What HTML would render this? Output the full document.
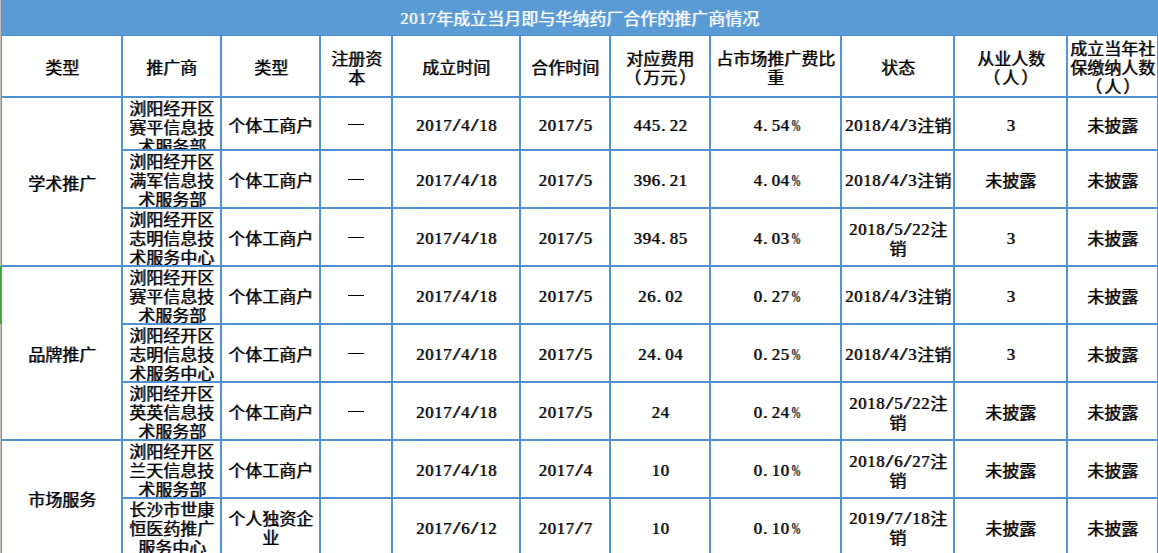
<!DOCTYPE html>
<html lang="zh-CN"><head><meta charset="utf-8"><style>
html,body{margin:0;padding:0;background:#fff;width:1158px;height:553px;overflow:hidden;position:relative}
.r{position:absolute}
.c{position:absolute;overflow:hidden}
.t{position:absolute;left:0;right:0;text-align:center;white-space:nowrap;font-family:"Liberation Sans",sans-serif;font-size:17px;line-height:19px;font-weight:normal;text-shadow:1px 0 0 rgba(0,0,0,.65);text-spacing-trim:space-all}
.d{display:inline-block;width:9px;text-align:center;font-style:normal;font-family:"Liberation Serif",serif;font-size:16.5px;vertical-align:top;position:relative;top:-1px}
.dt{text-align:left;text-indent:1px}
.sl{font-family:"Liberation Mono",monospace;font-size:16px;top:1px}
.pc{display:inline-block;transform:scaleX(0.62);font-weight:normal}
.pl{position:relative;left:-2px;font-weight:normal}
.pr{position:relative;left:2px;font-weight:normal}
</style></head><body>
<div class="r" style="left:1px;top:0;width:1157px;height:35px;background:#5b9bd5"></div>
<div class="c" style="left:1px;top:0;width:1156px;height:35px"><div class="t" style="top:10px;color:#fff;text-shadow:1px 0 0 rgba(255,255,255,.6)"><i class="d">2</i><i class="d">0</i><i class="d">1</i><i class="d">7</i>年成立当月即与华纳药厂合作的推广商情况</div></div>
<div class="c" style="left:2px;top:36px;width:119px;height:60px"><div class="t" style="top:23.0px;color:#000">类型</div></div><div class="c" style="left:123px;top:36px;width:97px;height:60px"><div class="t" style="top:23.0px;color:#000">推广商</div></div><div class="c" style="left:222px;top:36px;width:97px;height:60px"><div class="t" style="top:23.0px;color:#000">类型</div></div><div class="c" style="left:321px;top:36px;width:70px;height:60px"><div class="t" style="top:13.5px;color:#000">注册资<br>本</div></div><div class="c" style="left:393px;top:36px;width:126px;height:60px"><div class="t" style="top:23.0px;color:#000">成立时间</div></div><div class="c" style="left:521px;top:36px;width:88px;height:60px"><div class="t" style="top:23.0px;color:#000">合作时间</div></div><div class="c" style="left:611px;top:36px;width:98px;height:60px"><div class="t" style="top:13.5px;color:#000">对应费用<br><b class="pl">（</b>万元<b class="pr">）</b></div></div><div class="c" style="left:711px;top:36px;width:129px;height:60px"><div class="t" style="top:13.5px;color:#000">占市场推广费比<br>重</div></div><div class="c" style="left:842px;top:36px;width:111px;height:60px"><div class="t" style="top:23.0px;color:#000">状态</div></div><div class="c" style="left:955px;top:36px;width:111px;height:60px"><div class="t" style="top:13.5px;color:#000">从业人数<br><b class="pl">（</b>人<b class="pr">）</b></div></div><div class="c" style="left:1068px;top:36px;width:89px;height:60px"><div class="t" style="top:4.0px;color:#000">成立当年社<br>保缴纳人数<br><b class="pl">（</b>人<b class="pr">）</b></div></div><div class="c" style="left:123px;top:98px;width:97px;height:51px"><div class="t" style="top:2.0px;color:#000">浏阳经开区<br>赛平信息技<br>术服务部</div></div><div class="c" style="left:222px;top:98px;width:97px;height:51px"><div class="t" style="top:18.5px;color:#000">个体工商户</div></div><div class="r" style="left:348px;top:124px;width:16px;height:1px;background:#000"></div><div class="c" style="left:393px;top:98px;width:126px;height:51px"><div class="t" style="top:18.5px;color:#000"><i class="d">2</i><i class="d">0</i><i class="d">1</i><i class="d">7</i><i class="d sl">/</i><i class="d">4</i><i class="d sl">/</i><i class="d">1</i><i class="d">8</i></div></div><div class="c" style="left:521px;top:98px;width:88px;height:51px"><div class="t" style="top:18.5px;color:#000"><i class="d">2</i><i class="d">0</i><i class="d">1</i><i class="d">7</i><i class="d sl">/</i><i class="d">5</i></div></div><div class="c" style="left:611px;top:98px;width:98px;height:51px"><div class="t" style="top:18.5px;color:#000"><i class="d">4</i><i class="d">4</i><i class="d">5</i><i class="d dt">.</i><i class="d">2</i><i class="d">2</i></div></div><div class="c" style="left:711px;top:98px;width:129px;height:51px"><div class="t" style="top:18.5px;color:#000"><i class="d">4</i><i class="d dt">.</i><i class="d">5</i><i class="d">4</i><i class="d"><b class="pc">%</b></i></div></div><div class="c" style="left:842px;top:98px;width:111px;height:51px"><div class="t" style="top:18.5px;color:#000"><i class="d">2</i><i class="d">0</i><i class="d">1</i><i class="d">8</i><i class="d sl">/</i><i class="d">4</i><i class="d sl">/</i><i class="d">3</i>注销</div></div><div class="c" style="left:955px;top:98px;width:111px;height:51px"><div class="t" style="top:18.5px;color:#000"><i class="d">3</i></div></div><div class="c" style="left:1068px;top:98px;width:89px;height:51px"><div class="t" style="top:18.5px;color:#000">未披露</div></div><div class="c" style="left:123px;top:151px;width:97px;height:56px"><div class="t" style="top:2.0px;color:#000">浏阳经开区<br>满军信息技<br>术服务部</div></div><div class="c" style="left:222px;top:151px;width:97px;height:56px"><div class="t" style="top:21.0px;color:#000">个体工商户</div></div><div class="r" style="left:348px;top:179px;width:16px;height:1px;background:#000"></div><div class="c" style="left:393px;top:151px;width:126px;height:56px"><div class="t" style="top:21.0px;color:#000"><i class="d">2</i><i class="d">0</i><i class="d">1</i><i class="d">7</i><i class="d sl">/</i><i class="d">4</i><i class="d sl">/</i><i class="d">1</i><i class="d">8</i></div></div><div class="c" style="left:521px;top:151px;width:88px;height:56px"><div class="t" style="top:21.0px;color:#000"><i class="d">2</i><i class="d">0</i><i class="d">1</i><i class="d">7</i><i class="d sl">/</i><i class="d">5</i></div></div><div class="c" style="left:611px;top:151px;width:98px;height:56px"><div class="t" style="top:21.0px;color:#000"><i class="d">3</i><i class="d">9</i><i class="d">6</i><i class="d dt">.</i><i class="d">2</i><i class="d">1</i></div></div><div class="c" style="left:711px;top:151px;width:129px;height:56px"><div class="t" style="top:21.0px;color:#000"><i class="d">4</i><i class="d dt">.</i><i class="d">0</i><i class="d">4</i><i class="d"><b class="pc">%</b></i></div></div><div class="c" style="left:842px;top:151px;width:111px;height:56px"><div class="t" style="top:21.0px;color:#000"><i class="d">2</i><i class="d">0</i><i class="d">1</i><i class="d">8</i><i class="d sl">/</i><i class="d">4</i><i class="d sl">/</i><i class="d">3</i>注销</div></div><div class="c" style="left:955px;top:151px;width:111px;height:56px"><div class="t" style="top:21.0px;color:#000">未披露</div></div><div class="c" style="left:1068px;top:151px;width:89px;height:56px"><div class="t" style="top:21.0px;color:#000">未披露</div></div><div class="c" style="left:123px;top:209px;width:97px;height:56px"><div class="t" style="top:2.0px;color:#000">浏阳经开区<br>志明信息技<br>术服务中心</div></div><div class="c" style="left:222px;top:209px;width:97px;height:56px"><div class="t" style="top:21.0px;color:#000">个体工商户</div></div><div class="r" style="left:348px;top:237px;width:16px;height:1px;background:#000"></div><div class="c" style="left:393px;top:209px;width:126px;height:56px"><div class="t" style="top:21.0px;color:#000"><i class="d">2</i><i class="d">0</i><i class="d">1</i><i class="d">7</i><i class="d sl">/</i><i class="d">4</i><i class="d sl">/</i><i class="d">1</i><i class="d">8</i></div></div><div class="c" style="left:521px;top:209px;width:88px;height:56px"><div class="t" style="top:21.0px;color:#000"><i class="d">2</i><i class="d">0</i><i class="d">1</i><i class="d">7</i><i class="d sl">/</i><i class="d">5</i></div></div><div class="c" style="left:611px;top:209px;width:98px;height:56px"><div class="t" style="top:21.0px;color:#000"><i class="d">3</i><i class="d">9</i><i class="d">4</i><i class="d dt">.</i><i class="d">8</i><i class="d">5</i></div></div><div class="c" style="left:711px;top:209px;width:129px;height:56px"><div class="t" style="top:21.0px;color:#000"><i class="d">4</i><i class="d dt">.</i><i class="d">0</i><i class="d">3</i><i class="d"><b class="pc">%</b></i></div></div><div class="c" style="left:842px;top:209px;width:111px;height:56px"><div class="t" style="top:11.5px;color:#000"><i class="d">2</i><i class="d">0</i><i class="d">1</i><i class="d">8</i><i class="d sl">/</i><i class="d">5</i><i class="d sl">/</i><i class="d">2</i><i class="d">2</i>注<br>销</div></div><div class="c" style="left:955px;top:209px;width:111px;height:56px"><div class="t" style="top:21.0px;color:#000"><i class="d">3</i></div></div><div class="c" style="left:1068px;top:209px;width:89px;height:56px"><div class="t" style="top:21.0px;color:#000">未披露</div></div><div class="c" style="left:123px;top:267px;width:97px;height:56px"><div class="t" style="top:2.0px;color:#000">浏阳经开区<br>赛平信息技<br>术服务部</div></div><div class="c" style="left:222px;top:267px;width:97px;height:56px"><div class="t" style="top:21.0px;color:#000">个体工商户</div></div><div class="r" style="left:348px;top:295px;width:16px;height:1px;background:#000"></div><div class="c" style="left:393px;top:267px;width:126px;height:56px"><div class="t" style="top:21.0px;color:#000"><i class="d">2</i><i class="d">0</i><i class="d">1</i><i class="d">7</i><i class="d sl">/</i><i class="d">4</i><i class="d sl">/</i><i class="d">1</i><i class="d">8</i></div></div><div class="c" style="left:521px;top:267px;width:88px;height:56px"><div class="t" style="top:21.0px;color:#000"><i class="d">2</i><i class="d">0</i><i class="d">1</i><i class="d">7</i><i class="d sl">/</i><i class="d">5</i></div></div><div class="c" style="left:611px;top:267px;width:98px;height:56px"><div class="t" style="top:21.0px;color:#000"><i class="d">2</i><i class="d">6</i><i class="d dt">.</i><i class="d">0</i><i class="d">2</i></div></div><div class="c" style="left:711px;top:267px;width:129px;height:56px"><div class="t" style="top:21.0px;color:#000"><i class="d">0</i><i class="d dt">.</i><i class="d">2</i><i class="d">7</i><i class="d"><b class="pc">%</b></i></div></div><div class="c" style="left:842px;top:267px;width:111px;height:56px"><div class="t" style="top:21.0px;color:#000"><i class="d">2</i><i class="d">0</i><i class="d">1</i><i class="d">8</i><i class="d sl">/</i><i class="d">4</i><i class="d sl">/</i><i class="d">3</i>注销</div></div><div class="c" style="left:955px;top:267px;width:111px;height:56px"><div class="t" style="top:21.0px;color:#000"><i class="d">3</i></div></div><div class="c" style="left:1068px;top:267px;width:89px;height:56px"><div class="t" style="top:21.0px;color:#000">未披露</div></div><div class="c" style="left:123px;top:325px;width:97px;height:56px"><div class="t" style="top:2.0px;color:#000">浏阳经开区<br>志明信息技<br>术服务中心</div></div><div class="c" style="left:222px;top:325px;width:97px;height:56px"><div class="t" style="top:21.0px;color:#000">个体工商户</div></div><div class="r" style="left:348px;top:353px;width:16px;height:1px;background:#000"></div><div class="c" style="left:393px;top:325px;width:126px;height:56px"><div class="t" style="top:21.0px;color:#000"><i class="d">2</i><i class="d">0</i><i class="d">1</i><i class="d">7</i><i class="d sl">/</i><i class="d">4</i><i class="d sl">/</i><i class="d">1</i><i class="d">8</i></div></div><div class="c" style="left:521px;top:325px;width:88px;height:56px"><div class="t" style="top:21.0px;color:#000"><i class="d">2</i><i class="d">0</i><i class="d">1</i><i class="d">7</i><i class="d sl">/</i><i class="d">5</i></div></div><div class="c" style="left:611px;top:325px;width:98px;height:56px"><div class="t" style="top:21.0px;color:#000"><i class="d">2</i><i class="d">4</i><i class="d dt">.</i><i class="d">0</i><i class="d">4</i></div></div><div class="c" style="left:711px;top:325px;width:129px;height:56px"><div class="t" style="top:21.0px;color:#000"><i class="d">0</i><i class="d dt">.</i><i class="d">2</i><i class="d">5</i><i class="d"><b class="pc">%</b></i></div></div><div class="c" style="left:842px;top:325px;width:111px;height:56px"><div class="t" style="top:21.0px;color:#000"><i class="d">2</i><i class="d">0</i><i class="d">1</i><i class="d">8</i><i class="d sl">/</i><i class="d">4</i><i class="d sl">/</i><i class="d">3</i>注销</div></div><div class="c" style="left:955px;top:325px;width:111px;height:56px"><div class="t" style="top:21.0px;color:#000"><i class="d">3</i></div></div><div class="c" style="left:1068px;top:325px;width:89px;height:56px"><div class="t" style="top:21.0px;color:#000">未披露</div></div><div class="c" style="left:123px;top:383px;width:97px;height:56px"><div class="t" style="top:2.0px;color:#000">浏阳经开区<br>英英信息技<br>术服务部</div></div><div class="c" style="left:222px;top:383px;width:97px;height:56px"><div class="t" style="top:21.0px;color:#000">个体工商户</div></div><div class="r" style="left:348px;top:411px;width:16px;height:1px;background:#000"></div><div class="c" style="left:393px;top:383px;width:126px;height:56px"><div class="t" style="top:21.0px;color:#000"><i class="d">2</i><i class="d">0</i><i class="d">1</i><i class="d">7</i><i class="d sl">/</i><i class="d">4</i><i class="d sl">/</i><i class="d">1</i><i class="d">8</i></div></div><div class="c" style="left:521px;top:383px;width:88px;height:56px"><div class="t" style="top:21.0px;color:#000"><i class="d">2</i><i class="d">0</i><i class="d">1</i><i class="d">7</i><i class="d sl">/</i><i class="d">5</i></div></div><div class="c" style="left:611px;top:383px;width:98px;height:56px"><div class="t" style="top:21.0px;color:#000"><i class="d">2</i><i class="d">4</i></div></div><div class="c" style="left:711px;top:383px;width:129px;height:56px"><div class="t" style="top:21.0px;color:#000"><i class="d">0</i><i class="d dt">.</i><i class="d">2</i><i class="d">4</i><i class="d"><b class="pc">%</b></i></div></div><div class="c" style="left:842px;top:383px;width:111px;height:56px"><div class="t" style="top:11.5px;color:#000"><i class="d">2</i><i class="d">0</i><i class="d">1</i><i class="d">8</i><i class="d sl">/</i><i class="d">5</i><i class="d sl">/</i><i class="d">2</i><i class="d">2</i>注<br>销</div></div><div class="c" style="left:955px;top:383px;width:111px;height:56px"><div class="t" style="top:21.0px;color:#000">未披露</div></div><div class="c" style="left:1068px;top:383px;width:89px;height:56px"><div class="t" style="top:21.0px;color:#000">未披露</div></div><div class="c" style="left:123px;top:441px;width:97px;height:56px"><div class="t" style="top:2.0px;color:#000">浏阳经开区<br>兰天信息技<br>术服务部</div></div><div class="c" style="left:222px;top:441px;width:97px;height:56px"><div class="t" style="top:21.0px;color:#000">个体工商户</div></div><div class="c" style="left:393px;top:441px;width:126px;height:56px"><div class="t" style="top:21.0px;color:#000"><i class="d">2</i><i class="d">0</i><i class="d">1</i><i class="d">7</i><i class="d sl">/</i><i class="d">4</i><i class="d sl">/</i><i class="d">1</i><i class="d">8</i></div></div><div class="c" style="left:521px;top:441px;width:88px;height:56px"><div class="t" style="top:21.0px;color:#000"><i class="d">2</i><i class="d">0</i><i class="d">1</i><i class="d">7</i><i class="d sl">/</i><i class="d">4</i></div></div><div class="c" style="left:611px;top:441px;width:98px;height:56px"><div class="t" style="top:21.0px;color:#000"><i class="d">1</i><i class="d">0</i></div></div><div class="c" style="left:711px;top:441px;width:129px;height:56px"><div class="t" style="top:21.0px;color:#000"><i class="d">0</i><i class="d dt">.</i><i class="d">1</i><i class="d">0</i><i class="d"><b class="pc">%</b></i></div></div><div class="c" style="left:842px;top:441px;width:111px;height:56px"><div class="t" style="top:11.5px;color:#000"><i class="d">2</i><i class="d">0</i><i class="d">1</i><i class="d">8</i><i class="d sl">/</i><i class="d">6</i><i class="d sl">/</i><i class="d">2</i><i class="d">7</i>注<br>销</div></div><div class="c" style="left:955px;top:441px;width:111px;height:56px"><div class="t" style="top:21.0px;color:#000">未披露</div></div><div class="c" style="left:1068px;top:441px;width:89px;height:56px"><div class="t" style="top:21.0px;color:#000">未披露</div></div><div class="c" style="left:123px;top:499px;width:97px;height:55px"><div class="t" style="top:2.0px;color:#000">长沙市世康<br>恒医药推广<br>服务中心</div></div><div class="c" style="left:222px;top:499px;width:97px;height:55px"><div class="t" style="top:11.0px;color:#000">个人独资企<br>业</div></div><div class="c" style="left:393px;top:499px;width:126px;height:55px"><div class="t" style="top:20.5px;color:#000"><i class="d">2</i><i class="d">0</i><i class="d">1</i><i class="d">7</i><i class="d sl">/</i><i class="d">6</i><i class="d sl">/</i><i class="d">1</i><i class="d">2</i></div></div><div class="c" style="left:521px;top:499px;width:88px;height:55px"><div class="t" style="top:20.5px;color:#000"><i class="d">2</i><i class="d">0</i><i class="d">1</i><i class="d">7</i><i class="d sl">/</i><i class="d">7</i></div></div><div class="c" style="left:611px;top:499px;width:98px;height:55px"><div class="t" style="top:20.5px;color:#000"><i class="d">1</i><i class="d">0</i></div></div><div class="c" style="left:711px;top:499px;width:129px;height:55px"><div class="t" style="top:20.5px;color:#000"><i class="d">0</i><i class="d dt">.</i><i class="d">1</i><i class="d">0</i><i class="d"><b class="pc">%</b></i></div></div><div class="c" style="left:842px;top:499px;width:111px;height:55px"><div class="t" style="top:11.0px;color:#000"><i class="d">2</i><i class="d">0</i><i class="d">1</i><i class="d">9</i><i class="d sl">/</i><i class="d">7</i><i class="d sl">/</i><i class="d">1</i><i class="d">8</i>注<br>销</div></div><div class="c" style="left:955px;top:499px;width:111px;height:55px"><div class="t" style="top:20.5px;color:#000">未披露</div></div><div class="c" style="left:1068px;top:499px;width:89px;height:55px"><div class="t" style="top:20.5px;color:#000">未披露</div></div><div class="c" style="left:2px;top:98px;width:119px;height:167px"><div class="t" style="top:76.5px;color:#000">学术推广</div></div><div class="c" style="left:2px;top:267px;width:119px;height:172px"><div class="t" style="top:79.0px;color:#000">品牌推广</div></div><div class="c" style="left:2px;top:441px;width:119px;height:113px"><div class="t" style="top:49.5px;color:#000">市场服务</div></div>
<div class="r" style="left:121px;top:36px;width:2px;height:517px;background:#5295d5"></div><div class="r" style="left:220px;top:36px;width:2px;height:517px;background:#5295d5"></div><div class="r" style="left:319px;top:36px;width:2px;height:517px;background:#5295d5"></div><div class="r" style="left:391px;top:36px;width:2px;height:517px;background:#5295d5"></div><div class="r" style="left:519px;top:36px;width:2px;height:517px;background:#5295d5"></div><div class="r" style="left:609px;top:36px;width:2px;height:517px;background:#5295d5"></div><div class="r" style="left:709px;top:36px;width:2px;height:517px;background:#5295d5"></div><div class="r" style="left:840px;top:36px;width:2px;height:517px;background:#5295d5"></div><div class="r" style="left:953px;top:36px;width:2px;height:517px;background:#5295d5"></div><div class="r" style="left:1066px;top:36px;width:2px;height:517px;background:#5295d5"></div><div class="r" style="left:1px;top:0px;width:1px;height:553px;background:#5295d5"></div><div class="r" style="left:1157px;top:36px;width:1px;height:517px;background:#5295d5"></div><div class="r" style="left:1px;top:96px;width:1157px;height:2px;background:#4d91d2"></div><div class="r" style="left:121px;top:149px;width:1037px;height:2px;background:#4d91d2"></div><div class="r" style="left:121px;top:207px;width:1037px;height:2px;background:#4d91d2"></div><div class="r" style="left:1px;top:265px;width:1157px;height:2px;background:#4d91d2"></div><div class="r" style="left:121px;top:323px;width:1037px;height:2px;background:#4d91d2"></div><div class="r" style="left:121px;top:381px;width:1037px;height:2px;background:#4d91d2"></div><div class="r" style="left:1px;top:439px;width:1157px;height:2px;background:#4d91d2"></div><div class="r" style="left:121px;top:497px;width:1037px;height:2px;background:#4d91d2"></div><div class="r" style="left:1px;top:35px;width:1157px;height:1px;background:#4d91d2"></div><div class="r" style="left:0px;top:0px;width:1px;height:553px;background:#c9c1b9"></div><div class="r" style="left:0px;top:266px;width:1px;height:58px;background:#3da83a"></div>
</body></html>
